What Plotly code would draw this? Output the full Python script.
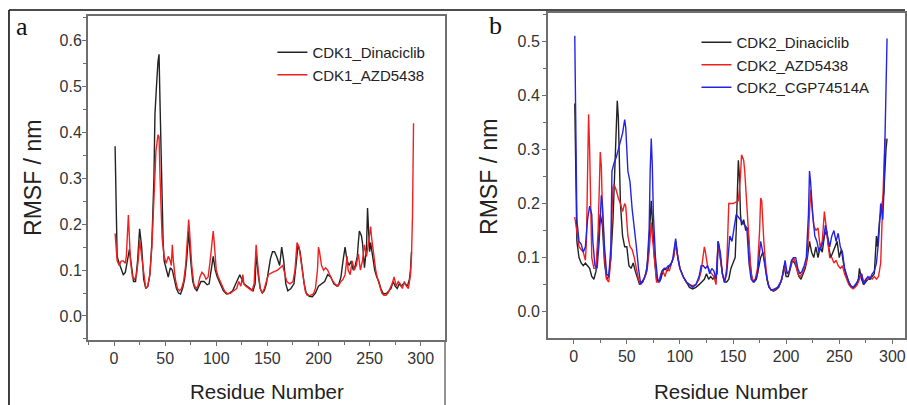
import plotly.graph_objects as go

W, H = 907, 405

# ---------------- data (residue, RMSF nm) ----------------
cdk1_dinaciclib = [(1,0.37),(2,0.20),(3,0.13),(5,0.115),(7,0.10),(9,0.09),(11,0.095),(13,0.12),(15,0.145),(17,0.11),(19,0.075),(21,0.075),(23,0.12),(25,0.19),(27,0.15),(29,0.08),(31,0.06),(33,0.065),(35,0.09),(37,0.16),(39,0.30),(40,0.44),(41,0.47),(42,0.52),(43,0.555),(44,0.57),(45,0.46),(46,0.33),(47,0.22),(48,0.16),(49,0.12),(51,0.10),(53,0.085),(55,0.105),(57,0.10),(59,0.08),(61,0.06),(63,0.05),(65,0.048),(67,0.06),(69,0.08),(71,0.12),(73,0.185),(75,0.12),(77,0.075),(79,0.06),(81,0.055),(83,0.065),(85,0.075),(88,0.075),(91,0.068),(93,0.07),(95,0.10),(97,0.13),(99,0.10),(101,0.085),(104,0.07),(107,0.055),(110,0.048),(113,0.05),(116,0.055),(119,0.07),(121,0.08),(123,0.09),(125,0.08),(127,0.07),(130,0.065),(133,0.06),(136,0.055),(138,0.07),(139,0.14),(141,0.09),(143,0.06),(145,0.05),(147,0.055),(149,0.07),(151,0.10),(153,0.125),(155,0.14),(157,0.14),(159,0.13),(161,0.115),(162,0.11),(164,0.15),(166,0.12),(168,0.07),(170,0.055),(173,0.06),(176,0.07),(178,0.11),(180,0.155),(182,0.14),(184,0.10),(186,0.07),(188,0.05),(191,0.043),(194,0.042),(197,0.05),(200,0.065),(203,0.07),(206,0.075),(209,0.09),(212,0.085),(215,0.07),(218,0.065),(220,0.07),(222,0.085),(224,0.12),(226,0.15),(228,0.12),(230,0.11),(232,0.12),(234,0.10),(236,0.11),(238,0.13),(239,0.16),(240,0.185),(242,0.175),(243,0.16),(245,0.105),(247,0.15),(248,0.235),(249,0.17),(250,0.14),(251,0.16),(253,0.13),(255,0.10),(257,0.085),(259,0.075),(261,0.06),(263,0.05),(265,0.048),(267,0.05),(269,0.055),(271,0.06),(273,0.075),(275,0.065),(277,0.06),(279,0.07),(281,0.065),(283,0.07),(285,0.07),(287,0.065),(289,0.08),(290,0.10),(291,0.14)]

cdk1_azd5438 = [(1,0.18),(2,0.15),(3,0.12),(5,0.11),(7,0.12),(9,0.12),(11,0.115),(12,0.13),(13,0.18),(14,0.22),(15,0.17),(16,0.12),(18,0.085),(20,0.08),(22,0.09),(24,0.13),(25,0.165),(27,0.13),(29,0.085),(31,0.06),(33,0.065),(35,0.09),(37,0.15),(39,0.26),(41,0.36),(43,0.395),(44,0.39),(45,0.30),(46,0.22),(47,0.17),(49,0.13),(51,0.115),(53,0.13),(55,0.12),(56,0.11),(57,0.155),(58,0.12),(60,0.08),(62,0.06),(64,0.055),(66,0.06),(68,0.075),(70,0.11),(72,0.18),(73,0.21),(74,0.18),(76,0.11),(78,0.07),(80,0.06),(82,0.065),(84,0.085),(86,0.095),(88,0.09),(90,0.08),(92,0.085),(94,0.12),(96,0.17),(97,0.185),(98,0.16),(100,0.10),(102,0.085),(105,0.07),(108,0.055),(111,0.048),(114,0.05),(117,0.055),(120,0.06),(122,0.075),(124,0.065),(126,0.09),(127,0.07),(129,0.065),(132,0.06),(135,0.055),(137,0.07),(139,0.155),(141,0.10),(143,0.06),(145,0.05),(147,0.06),(149,0.075),(151,0.09),(155,0.095),(160,0.10),(165,0.11),(167,0.09),(169,0.075),(172,0.07),(175,0.075),(177,0.10),(179,0.16),(181,0.15),(183,0.12),(185,0.08),(187,0.055),(189,0.045),(192,0.045),(195,0.048),(197,0.06),(199,0.10),(200,0.15),(201,0.14),(203,0.11),(205,0.10),(207,0.105),(209,0.10),(211,0.09),(213,0.08),(216,0.07),(219,0.065),(222,0.075),(224,0.08),(226,0.09),(228,0.13),(229,0.10),(231,0.09),(233,0.12),(235,0.10),(237,0.11),(239,0.135),(241,0.10),(243,0.12),(245,0.155),(247,0.13),(249,0.16),(251,0.195),(252,0.17),(254,0.13),(256,0.10),(258,0.08),(260,0.065),(262,0.05),(264,0.045),(266,0.045),(268,0.05),(270,0.06),(272,0.07),(274,0.085),(276,0.065),(278,0.075),(280,0.07),(282,0.06),(284,0.075),(286,0.065),(288,0.06),(290,0.09),(291,0.13),(292,0.22),(293,0.42)]

cdk2_dinaciclib = [(1,0.385),(2,0.25),(3,0.13),(5,0.10),(7,0.09),(9,0.085),(11,0.09),(13,0.085),(15,0.08),(17,0.065),(19,0.06),(21,0.075),(23,0.12),(25,0.18),(27,0.16),(29,0.09),(31,0.06),(33,0.065),(35,0.10),(37,0.17),(39,0.28),(40,0.35),(41,0.39),(42,0.36),(43,0.27),(44,0.20),(46,0.14),(48,0.12),(50,0.12),(52,0.085),(54,0.08),(56,0.09),(58,0.075),(60,0.06),(62,0.05),(64,0.055),(66,0.06),(68,0.07),(70,0.10),(72,0.17),(73,0.205),(74,0.17),(76,0.10),(78,0.06),(80,0.055),(82,0.06),(84,0.075),(86,0.08),(88,0.075),(90,0.085),(92,0.09),(94,0.10),(96,0.13),(98,0.10),(100,0.08),(103,0.065),(106,0.055),(109,0.045),(112,0.042),(115,0.045),(118,0.05),(121,0.055),(123,0.06),(125,0.07),(127,0.06),(129,0.065),(131,0.06),(133,0.065),(135,0.07),(136,0.13),(138,0.10),(140,0.07),(142,0.055),(144,0.055),(146,0.06),(148,0.08),(150,0.09),(152,0.10),(153,0.15),(154,0.22),(155,0.28),(156,0.25),(157,0.18),(158,0.16),(160,0.17),(162,0.15),(164,0.155),(166,0.09),(168,0.06),(170,0.055),(172,0.06),(174,0.08),(176,0.10),(178,0.11),(180,0.09),(182,0.06),(184,0.045),(186,0.04),(188,0.038),(190,0.04),(193,0.045),(196,0.06),(198,0.085),(200,0.065),(202,0.065),(204,0.08),(206,0.095),(208,0.09),(210,0.08),(212,0.065),(214,0.06),(216,0.07),(218,0.08),(220,0.10),(222,0.13),(224,0.11),(226,0.10),(228,0.12),(230,0.10),(232,0.12),(234,0.11),(236,0.14),(238,0.15),(240,0.12),(242,0.10),(244,0.11),(246,0.12),(248,0.13),(250,0.10),(252,0.115),(254,0.09),(256,0.07),(258,0.06),(260,0.05),(262,0.045),(264,0.045),(266,0.05),(268,0.06),(269,0.08),(271,0.06),(273,0.05),(275,0.055),(277,0.06),(279,0.06),(281,0.065),(283,0.07),(285,0.14),(286,0.12),(288,0.17),(290,0.20),(292,0.22),(294,0.30),(295,0.32)]

cdk2_azd5438 = [(1,0.175),(2,0.16),(3,0.14),(5,0.12),(7,0.115),(9,0.11),(11,0.095),(12,0.13),(13,0.25),(14,0.365),(15,0.30),(16,0.17),(17,0.10),(19,0.08),(21,0.08),(23,0.15),(24,0.25),(25,0.295),(26,0.27),(27,0.19),(29,0.10),(31,0.06),(33,0.055),(35,0.10),(36,0.18),(37,0.23),(38,0.235),(40,0.225),(42,0.21),(44,0.20),(46,0.185),(48,0.20),(49,0.195),(51,0.14),(53,0.12),(55,0.115),(57,0.10),(59,0.08),(61,0.06),(63,0.05),(65,0.055),(67,0.065),(69,0.075),(71,0.11),(72,0.15),(73,0.165),(74,0.14),(76,0.09),(78,0.055),(80,0.055),(82,0.07),(84,0.075),(86,0.065),(88,0.08),(90,0.075),(92,0.09),(94,0.10),(96,0.125),(98,0.10),(100,0.08),(103,0.065),(106,0.055),(109,0.05),(112,0.048),(115,0.05),(118,0.06),(120,0.075),(122,0.10),(123,0.12),(124,0.11),(126,0.085),(128,0.075),(130,0.07),(132,0.065),(134,0.05),(136,0.13),(138,0.10),(140,0.07),(142,0.055),(144,0.08),(146,0.20),(150,0.20),(155,0.205),(157,0.25),(158,0.29),(159,0.285),(160,0.28),(161,0.26),(163,0.20),(165,0.12),(167,0.07),(169,0.055),(171,0.06),(173,0.08),(175,0.15),(176,0.21),(177,0.205),(179,0.13),(181,0.08),(183,0.05),(186,0.04),(189,0.04),(192,0.045),(195,0.055),(197,0.07),(199,0.085),(201,0.07),(203,0.075),(205,0.09),(207,0.10),(209,0.09),(211,0.07),(213,0.065),(215,0.07),(217,0.08),(219,0.09),(221,0.14),(223,0.225),(224,0.20),(226,0.16),(228,0.15),(230,0.155),(232,0.12),(234,0.13),(236,0.185),(237,0.17),(239,0.13),(241,0.10),(243,0.10),(245,0.09),(247,0.095),(249,0.085),(251,0.08),(253,0.085),(255,0.07),(257,0.06),(259,0.05),(261,0.045),(263,0.042),(265,0.045),(267,0.05),(269,0.06),(271,0.07),(273,0.055),(275,0.06),(277,0.06),(279,0.065),(281,0.06),(283,0.065),(285,0.06),(287,0.065),(289,0.09),(290,0.15),(291,0.22),(292,0.28),(293,0.32)]

cdk2_cgp74514a = [(1,0.51),(2,0.30),(3,0.17),(5,0.13),(7,0.125),(9,0.11),(11,0.12),(13,0.17),(15,0.195),(17,0.18),(18,0.13),(20,0.085),(22,0.08),(24,0.13),(26,0.215),(27,0.20),(29,0.12),(31,0.07),(33,0.065),(35,0.12),(36,0.26),(38,0.275),(40,0.285),(42,0.30),(44,0.315),(46,0.33),(48,0.355),(49,0.34),(51,0.26),(53,0.24),(55,0.19),(57,0.16),(59,0.12),(61,0.08),(63,0.052),(65,0.055),(67,0.065),(69,0.08),(71,0.15),(72,0.26),(73,0.32),(74,0.27),(75,0.18),(77,0.10),(79,0.06),(81,0.055),(83,0.075),(85,0.08),(87,0.08),(89,0.085),(91,0.085),(93,0.095),(95,0.12),(96,0.135),(98,0.10),(100,0.08),(103,0.065),(106,0.055),(109,0.05),(112,0.045),(115,0.05),(118,0.065),(120,0.085),(122,0.085),(124,0.08),(126,0.085),(128,0.07),(130,0.08),(132,0.075),(134,0.06),(136,0.13),(138,0.11),(140,0.07),(142,0.055),(144,0.07),(146,0.12),(147,0.14),(149,0.13),(151,0.16),(153,0.18),(155,0.175),(157,0.17),(159,0.165),(161,0.16),(163,0.155),(165,0.09),(167,0.06),(169,0.055),(171,0.06),(173,0.07),(175,0.11),(176,0.13),(178,0.11),(180,0.08),(182,0.06),(184,0.045),(186,0.04),(189,0.042),(192,0.045),(195,0.055),(197,0.07),(199,0.095),(201,0.07),(203,0.075),(205,0.095),(207,0.10),(209,0.10),(211,0.08),(213,0.07),(215,0.075),(217,0.085),(219,0.10),(221,0.18),(222,0.26),(223,0.24),(225,0.18),(227,0.14),(229,0.13),(231,0.11),(233,0.12),(235,0.13),(237,0.16),(239,0.14),(241,0.12),(243,0.14),(245,0.15),(247,0.13),(249,0.145),(251,0.12),(253,0.11),(255,0.08),(257,0.065),(259,0.055),(261,0.048),(263,0.045),(265,0.05),(267,0.055),(269,0.065),(271,0.07),(273,0.05),(275,0.06),(277,0.065),(279,0.06),(281,0.07),(283,0.075),(285,0.09),(287,0.13),(289,0.20),(290,0.18),(291,0.17),(292,0.22),(293,0.30),(294,0.40),(295,0.505)]

x_ticks = [0, 50, 100, 150, 200, 250, 300]
y_ticks_a = [0.0, 0.1, 0.2, 0.3, 0.4, 0.5, 0.6]
y_ticks_b = [0.0, 0.1, 0.2, 0.3, 0.4, 0.5]

BLACK = "#222222"
RED = "#f02020"
BLUE = "#2323e6"
FONT = "Liberation Sans, Arial, sans-serif"


def xs(s):
    return [p[0] for p in s]


def ys(s):
    return [p[1] for p in s]


def px(x):
    return x / W


def py(y):
    return 1 - y / H


fig = go.Figure()

series = [
    (cdk1_dinaciclib, "CDK1_Dinaciclib", BLACK, "x", "y", "legend"),
    (cdk1_azd5438, "CDK1_AZD5438", RED, "x", "y", "legend"),
    (cdk2_dinaciclib, "CDK2_Dinaciclib", BLACK, "x2", "y2", "legend2"),
    (cdk2_azd5438, "CDK2_AZD5438", RED, "x2", "y2", "legend2"),
    (cdk2_cgp74514a, "CDK2_CGP74514A", BLUE, "x2", "y2", "legend2"),
]
for s, name, col, xa, ya, lg in series:
    fig.add_trace(go.Scatter(x=xs(s), y=ys(s), mode="lines", name=name,
                             line=dict(color=col, width=1.4),
                             xaxis=xa, yaxis=ya, legend=lg))

AXC = "#6e6e6e"
common = dict(showline=True, linecolor=AXC, linewidth=1.5, mirror=True,
              ticks="outside", ticklen=4, tickwidth=1.2, tickcolor=AXC,
              showgrid=False, zeroline=False,
              tickfont=dict(family=FONT, size=16, color="#333333"))

fig.update_layout(
    width=W, height=H, margin=dict(l=0, r=0, t=0, b=0),
    paper_bgcolor="white", plot_bgcolor="white", showlegend=True,
    xaxis=dict(domain=[px(88), px(446)], range=[-25.7, 323.8], anchor="y",
               tickvals=x_ticks, ticklabelstandoff=-1,
               minor=dict(ticks="outside", ticklen=3, dtick=25, tick0=0, tickcolor=AXC),
               **common),
    yaxis=dict(domain=[py(340), py(16)], range=[-0.0523, 0.6536], anchor="x",
               tickvals=y_ticks_a, tickformat=".1f", ticklabelstandoff=-3,
               minor=dict(ticks="outside", ticklen=3, dtick=0.05, tick0=0, tickcolor=AXC),
               **common),
    xaxis2=dict(domain=[px(549), 1.0], range=[-24.4, 311.9], anchor="y2",
                tickvals=x_ticks, ticklabelstandoff=-1,
                minor=dict(ticks="outside", ticklen=3, dtick=25, tick0=0, tickcolor=AXC),
                **common),
    yaxis2=dict(domain=[py(338), py(13)], range=[-0.0486, 0.5521], anchor="x2",
                tickvals=y_ticks_b, tickformat=".1f", ticklabelstandoff=-1,
                minor=dict(ticks="outside", ticklen=3, dtick=0.05, tick0=0, tickcolor=AXC),
                **common),
    legend=dict(x=px(273), y=py(36), xanchor="left", yanchor="top",
                bgcolor="rgba(0,0,0,0)", borderwidth=0, tracegroupgap=0,
                font=dict(family=FONT, size=15, color="#222222")),
    legend2=dict(x=px(698), y=py(26), xanchor="left", yanchor="top",
                 bgcolor="rgba(0,0,0,0)", borderwidth=0, tracegroupgap=0,
                 font=dict(family=FONT, size=15, color="#222222")),
)

ann = [
    dict(text="RMSF / nm", x=px(33), y=py(178), textangle=-90,
         font=dict(family=FONT, size=23, color="#222222")),
    dict(text="RMSF / nm", x=px(490), y=py(177), textangle=-90,
         font=dict(family=FONT, size=23, color="#222222")),
    dict(text="Residue Number", x=px(268), y=py(391),
         font=dict(family=FONT, size=20.5, color="#222222")),
    dict(text="Residue Number", x=px(733), y=py(391),
         font=dict(family=FONT, size=20.5, color="#222222")),
    dict(text="a", x=px(22), y=py(27),
         font=dict(family="Liberation Serif, Times New Roman, serif", size=26, color="#111111")),
    dict(text="b", x=px(497), y=py(25),
         font=dict(family="Liberation Serif, Times New Roman, serif", size=26, color="#111111")),
]
for a in ann:
    fig.add_annotation(xref="paper", yref="paper", showarrow=False,
                       xanchor="center", yanchor="middle", **a)

shapes = [
    dict(type="line", x0=px(9), x1=1.0, y0=py(10), y1=py(10), line=dict(color="#111111", width=1.6)),
    dict(type="line", x0=px(9), x1=px(9), y0=py(10), y1=0, line=dict(color="#111111", width=1.6)),
    dict(type="line", x0=px(446), x1=px(446), y0=py(340), y1=0, line=dict(color=AXC, width=1.5)),
]
for s in shapes:
    fig.add_shape(xref="paper", yref="paper", **s)

fig.write_html("out.html", config={"displayModeBar": False},
               post_script="document.body.style.margin='0px';document.body.style.overflow='hidden';")
